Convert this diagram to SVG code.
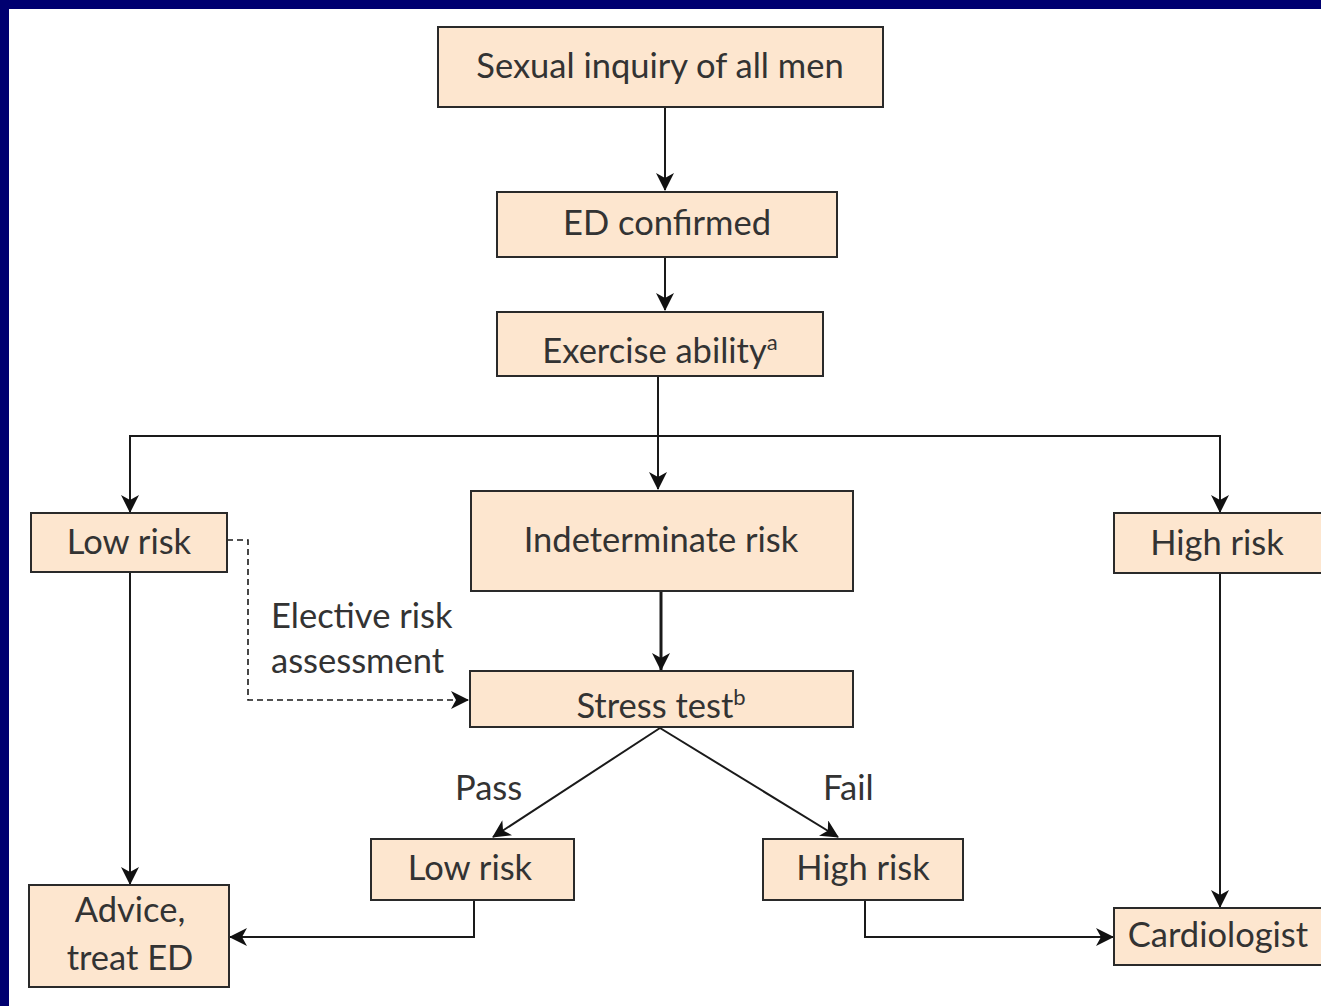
<svg xmlns="http://www.w3.org/2000/svg" width="1321" height="1006" viewBox="0 0 1321 1006">
<style>
.box{fill:#fde6cf;stroke:#2a2a2a;stroke-width:2}
.t{font-family:Lato,"Open Sans","Liberation Sans",sans-serif;font-size:34.5px;fill:#333;text-anchor:middle}
.l{font-family:Lato,"Open Sans","Liberation Sans",sans-serif;font-size:34.5px;fill:#333}
.c{fill:none;stroke:#1a1a1a;stroke-width:2}
.thick{stroke-width:3}
.dash{stroke-dasharray:6,4;stroke-width:1.6}
.sup{font-size:22px}
</style>
<defs>
<marker id="ah" viewBox="0 0 18 18" refX="17" refY="9" markerWidth="18" markerHeight="18" markerUnits="userSpaceOnUse" orient="auto">
<path d="M0,0 L18,9 L0,18 L5,9 Z" fill="#111"/>
</marker>
</defs>
<rect x="0" y="0" width="1321" height="1006" fill="#ffffff"/>
<rect x="0" y="0" width="1321" height="9" fill="#000070"/>
<rect x="0" y="0" width="9" height="1006" fill="#000070"/>
<g id="connectors">
<line class="c" x1="665" y1="107" x2="665" y2="190" marker-end="url(#ah)"/>
<line class="c" x1="665" y1="257" x2="665" y2="310" marker-end="url(#ah)"/>
<line class="c" x1="658" y1="376" x2="658" y2="436"/>
<polyline class="c" points="130,512 130,436 1220,436 1220,512" marker-end="url(#ah)"/>
<path class="c" d="M130,436 V512" marker-end="url(#ah)"/>
<line class="c" x1="658" y1="436" x2="658" y2="489" marker-end="url(#ah)"/>
<line class="c thick" x1="661" y1="591" x2="661" y2="670" marker-end="url(#ah)"/>
<polyline class="c dash" points="227,540 248,540 248,700 468,700" marker-end="url(#ah)"/>
<line class="c" x1="660" y1="728" x2="493" y2="837" marker-end="url(#ah)"/>
<line class="c" x1="660" y1="728" x2="838" y2="837" marker-end="url(#ah)"/>
<line class="c" x1="130" y1="572" x2="130" y2="884" marker-end="url(#ah)"/>
<polyline class="c" points="474,900 474,937 230,937" marker-end="url(#ah)"/>
<polyline class="c" points="865,900 865,937 1113,937" marker-end="url(#ah)"/>
<line class="c" x1="1220" y1="573" x2="1220" y2="907" marker-end="url(#ah)"/>
</g>
<g id="n-sexual"><rect class="box" x="438" y="27" width="445" height="80"/><text class="t" x="660" y="78">Sexual inquiry of all men</text></g>
<g id="n-ed"><rect class="box" x="497" y="192" width="340" height="65"/><text class="t" x="667" y="235">ED confirmed</text></g>
<g id="n-exercise"><rect class="box" x="497" y="312" width="326" height="64"/><text class="t" x="660" y="363">Exercise ability<tspan class="sup" dy="-13">a</tspan></text></g>
<g id="n-lowrisk"><rect class="box" x="31" y="513" width="196" height="59"/><text class="t" x="129" y="554">Low risk</text></g>
<g id="n-indet"><rect class="box" x="471" y="491" width="382" height="100"/><text class="t" x="661" y="552">Indeterminate risk</text></g>
<g id="n-highrisk"><rect class="box" x="1114" y="513" width="210" height="60"/><text class="t" x="1217" y="555">High risk</text></g>
<g id="n-stress"><rect class="box" x="470" y="671" width="383" height="56"/><text class="t" x="661" y="718">Stress test<tspan class="sup" dy="-13">b</tspan></text></g>
<g id="n-elective"><text class="l" x="271" y="628">Elective risk</text><text class="l" x="271" y="673">assessment</text></g>
<g id="n-pass"><text class="l" x="455" y="800">Pass</text></g>
<g id="n-fail"><text class="l" x="823" y="800">Fail</text></g>
<g id="n-lowmid"><rect class="box" x="371" y="839" width="203" height="61"/><text class="t" x="470" y="880">Low risk</text></g>
<g id="n-highmid"><rect class="box" x="763" y="839" width="200" height="61"/><text class="t" x="863" y="880">High risk</text></g>
<g id="n-advice"><rect class="box" x="29" y="885" width="200" height="102"/><text class="t" x="130" y="922">Advice,</text><text class="t" x="130" y="970">treat ED</text></g>
<g id="n-cardio"><rect class="box" x="1114" y="908" width="210" height="57"/><text class="t" x="1218" y="947">Cardiologist</text></g>
</svg>
